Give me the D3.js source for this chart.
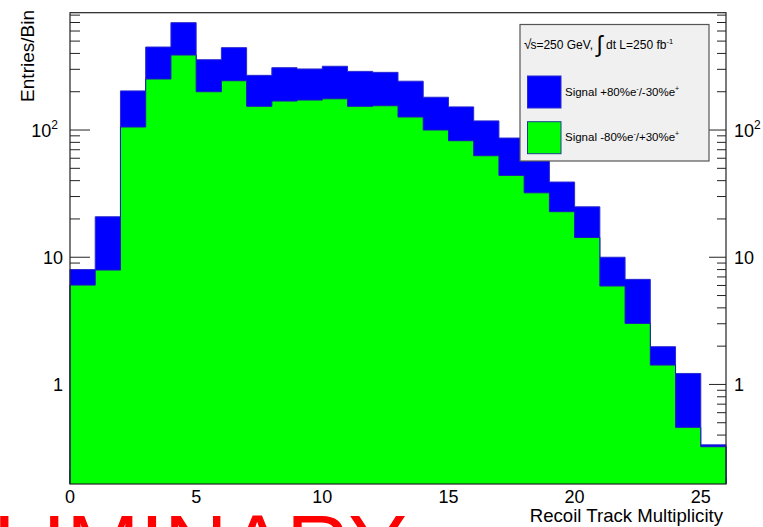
<!DOCTYPE html>
<html>
<head>
<meta charset="utf-8">
<script src="https://cdn.jsdelivr.net/npm/d3@7"></script>
<style>
  html, body { margin: 0; padding: 0; background: #fff; }
  svg { display: block; font-family: "Liberation Sans", Arial, Helvetica, sans-serif; }
</style>
</head>
<body>
<svg id="chart" width="763" height="527"></svg>
<script>
// Recoil track multiplicity, one bin per integer value (0..25)
const binEdges = d3.range(0, 27);
const signalPlus80 = [8.0, 20.8, 203, 449, 698, 357, 444, 269, 309, 302, 317, 289, 284,
                      242, 181, 152, 118, 86.5, 60, 39.0, 24.9, 10.0, 6.7, 1.98, 1.22, 0.335];
const signalMinus80 = [6.04, 7.93, 105.6, 251.8, 388.6, 200, 244, 153.6, 169, 172, 176, 153.6, 155.2,
                       126.6, 100, 82.4, 62.8, 44.0, 32.1, 22.8, 14.3, 5.94, 3.02, 1.42, 0.46, 0.324];
const xTickValues = [0, 5, 10, 15, 20, 25];
const yMajorTicks = [1, 10, 100];
const yMajorLabels = [["1", null], ["10", null], ["10", "2"]];
const legendHeader = "s=250 GeV,";
const legendEntries = ["Signal +80%e", "Signal -80%e"];

const svg = d3.select("#chart");
const frame = { left: 70, right: 726, top: 12.7, bottom: 484 };

const x = d3.scaleLinear().domain([0, 26]).range([frame.left, frame.right]);
const y = d3.scaleLog().domain([0.165, 836]).range([frame.bottom, frame.top]);

const FONT = '"Liberation Sans", Arial, Helvetica, sans-serif';

// ---- axis ticks (drawn first; histogram fills cover them) ----
const ticks = svg.append("g").attr("stroke", "#222").attr("stroke-width", 1);
const minorY = [];
[0.1, 1, 10, 100].forEach(dec => {
  for (let k = 2; k <= 9; k++) {
    const v = dec * k;
    if (v >= y.domain()[0] && v <= y.domain()[1]) minorY.push(v);
  }
});
// left axis
yMajorTicks.forEach(v => {
  ticks.append("line").attr("x1", frame.left).attr("x2", frame.left + 20)
    .attr("y1", y(v)).attr("y2", y(v));
});
minorY.forEach(v => {
  ticks.append("line").attr("x1", frame.left).attr("x2", frame.left + 10)
    .attr("y1", y(v)).attr("y2", y(v));
});
// right axis
yMajorTicks.forEach(v => {
  ticks.append("line").attr("x1", frame.right).attr("x2", frame.right - 17)
    .attr("y1", y(v)).attr("y2", y(v));
});
minorY.forEach(v => {
  ticks.append("line").attr("x1", frame.right).attr("x2", frame.right - 9)
    .attr("y1", y(v)).attr("y2", y(v));
});
// bottom axis
d3.range(0, 27).forEach(v => {
  const len = v % 5 === 0 ? 14 : 7;
  ticks.append("line").attr("x1", x(v)).attr("x2", x(v))
    .attr("y1", frame.bottom).attr("y2", frame.bottom - len);
});

// ---- histograms ----
function stepPoints(values) {
  const pts = [];
  values.forEach((v, i) => {
    pts.push([binEdges[i], v]);
    pts.push([binEdges[i + 1], v]);
  });
  return pts;
}
const area = d3.area()
  .x(d => x(d[0]))
  .y0(frame.bottom)
  .y1(d => Math.max(frame.top, y(d[1])));
const outline = d3.line()
  .x(d => x(d[0]))
  .y(d => Math.max(frame.top, y(d[1])));

function drawHist(values, fill, stroke) {
  const pts = stepPoints(values);
  const g = svg.append("g");
  g.append("path").attr("d", area(pts)).attr("fill", fill).attr("stroke", "none");
  const linePts = [[0, y.domain()[0]], ...pts, [26, y.domain()[0]]];
  g.append("path").attr("d", outline(linePts)).attr("fill", "none")
    .attr("stroke", stroke).attr("stroke-width", 1);
}
drawHist(signalPlus80, "#0000ff", "#2a2ad0");
drawHist(signalMinus80, "#00ff00", "#1a1ac0");

// ---- frame ----
svg.append("rect")
  .attr("x", frame.left).attr("y", frame.top)
  .attr("width", frame.right - frame.left).attr("height", frame.bottom - frame.top)
  .attr("fill", "none").attr("stroke", "#222").attr("stroke-width", 1.2);

// ---- tick labels ----
const xl = svg.append("g").attr("font-family", FONT).attr("font-size", 18).attr("fill", "#000");
xTickValues.forEach(v => {
  xl.append("text").attr("x", x(v)).attr("y", 503).attr("text-anchor", "middle").text(v);
});

function yLabel(parent, v, lab, side) {
  const t = parent.append("text").attr("y", y(v) + 6.5);
  if (side === "left") {
    t.attr("x", lab[1] ? 58 : 63).attr("text-anchor", "end");
  } else {
    t.attr("x", 734).attr("text-anchor", "start");
  }
  t.append("tspan").text(lab[0]);
  if (lab[1]) {
    t.append("tspan").attr("font-size", 12).attr("dy", -8).text(lab[1]);
  }
}
const yl = svg.append("g").attr("font-family", FONT).attr("font-size", 18).attr("fill", "#000");
yMajorTicks.forEach((v, i) => {
  yLabel(yl, v, yMajorLabels[i], "left");
  yLabel(yl, v, yMajorLabels[i], "right");
});

// ---- axis titles ----
svg.append("text")
  .attr("x", 723).attr("y", 522)
  .attr("text-anchor", "end")
  .attr("font-family", FONT).attr("font-size", 18.6)
  .text("Recoil Track Multiplicity");
svg.append("text")
  .attr("transform", "translate(34,10) rotate(-90)")
  .attr("text-anchor", "end")
  .attr("font-family", FONT).attr("font-size", 19)
  .text("Entries/Bin");

// ---- legend ----
const lg = svg.append("g");
lg.append("rect")
  .attr("x", 520).attr("y", 24.5).attr("width", 189).attr("height", 136.5)
  .attr("fill", "#f0f0f0").attr("stroke", "#555").attr("stroke-width", 1.2);

const hdr = lg.append("text")
  .attr("x", 524).attr("y", 49)
  .attr("font-family", FONT).attr("font-size", 12).attr("fill", "#000");
hdr.append("tspan").attr("font-size", 13.5).text("\u221A");
hdr.append("tspan").attr("dx", -1).text(legendHeader + " ");
hdr.append("tspan").attr("font-size", 23).attr("dy", 3).text("\u222B");
hdr.append("tspan").attr("dy", -3).text(" dt L=250 fb");
hdr.append("tspan").attr("font-size", 7.5).attr("dy", -5).text("-1");

const boxes = [
  { y: 76, fill: "#0000ff", stroke: "#2a2ad0", label: legendEntries[0], s1: "-", mid: "/-30%e", s2: "+" },
  { y: 121.7, fill: "#00ff00", stroke: "#1a4090", label: legendEntries[1], s1: "-", mid: "/+30%e", s2: "+" }
];
boxes.forEach(b => {
  lg.append("rect").attr("x", 527.5).attr("y", b.y).attr("width", 33.5).attr("height", 32)
    .attr("fill", b.fill).attr("stroke", b.stroke).attr("stroke-width", 1);
  const t = lg.append("text").attr("x", 565).attr("y", b.y + 19.5)
    .attr("font-family", FONT).attr("font-size", 11.5).attr("fill", "#000");
  t.append("tspan").text(b.label);
  t.append("tspan").attr("font-size", 7).attr("dy", -5).text(b.s1);
  t.append("tspan").attr("dy", 5).text(b.mid);
  t.append("tspan").attr("font-size", 7).attr("dy", -5).text(b.s2);
});

// ---- watermark ----
svg.append("text")
  .attr("x", -188).attr("y", 576)
  .attr("font-family", FONT).attr("font-size", 88).attr("fill", "#ff0000")
  .text("PRELIMINARY");
</script>
</body>
</html>
